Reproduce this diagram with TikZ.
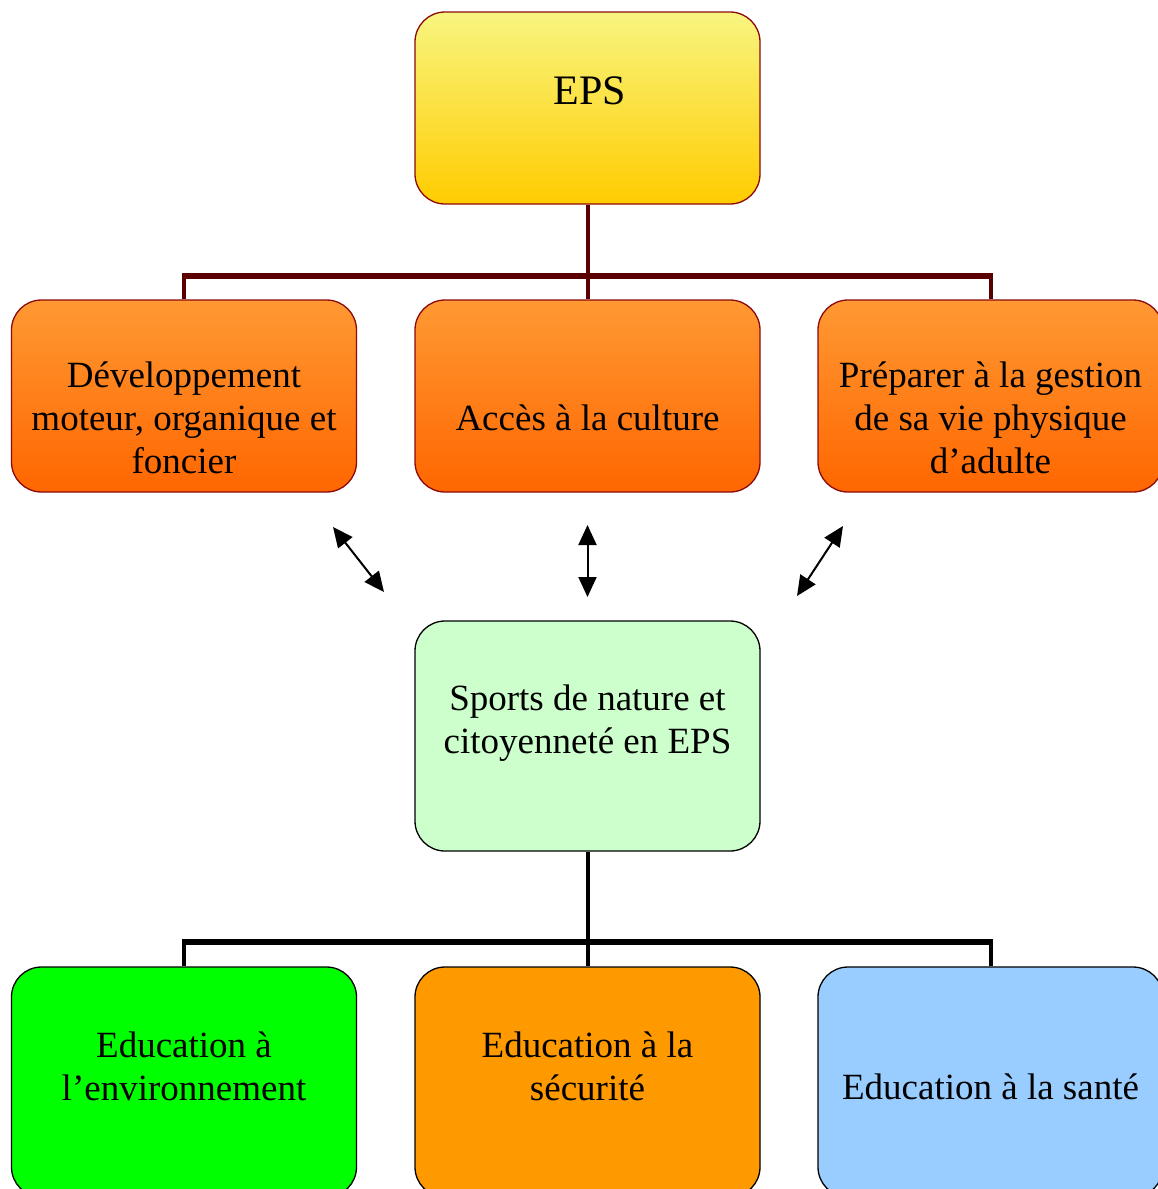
\documentclass[tikz,border=0pt]{standalone}
\usepackage{fontspec}
\setmainfont{Liberation Serif}
\usetikzlibrary{arrows.meta}
\definecolor{dred}{HTML}{5A0000}
\definecolor{bordred}{HTML}{8B0A0A}
\definecolor{epstop}{HTML}{F8F580}
\definecolor{epsbot}{HTML}{FFCC00}
\definecolor{ortop}{HTML}{FF9933}
\definecolor{orbot}{HTML}{FF6600}
\definecolor{lgreen}{HTML}{CCFFCC}
\definecolor{fgreen}{HTML}{00FF00}
\definecolor{forange}{HTML}{FF9900}
\definecolor{lblue}{HTML}{99CCFF}
\begin{document}
\begin{tikzpicture}[x=1pt,y=-1pt,
  box/.style={rectangle, rounded corners=30pt, minimum width=345pt, inner sep=0pt, line width=1.3pt},
  hbox/.style={box, minimum height=192pt},
  gold/.style={hbox, draw=bordred, top color=epstop, bottom color=epsbot},
  orng/.style={hbox, draw=bordred, top color=ortop, bottom color=orbot},
  lowbox/.style={box, minimum height=230pt, draw=black},
  lbl/.style={align=center, inner sep=0pt, font=\fontsize{37}{43}\selectfont},
  conn/.style={line width=4pt},
  bar/.style={line width=6pt},
  dbl/.style={line width=2pt, {Triangle[length=20pt,width=18pt]}-{Triangle[length=20pt,width=18pt]}}
]
\useasboundingbox (0,0) rectangle (1158,1189);
\clip (0,0) rectangle (1158,1189);

% top level
\node[gold] (eps) at (587.5,108) {};
\node[lbl, font=\fontsize{42}{48}\selectfont] (teps) at (590,91) {EPS};

% second row
\node[orng] (o1) at (184,396) {};
\node[orng] (o2) at (587.5,396) {};
\node[orng] (o3) at (990.5,396) {};
\node[lbl] (to1) at (184,418) {Développement\\moteur, organique et\\foncier};
\node[lbl] (to2) at (587.5,418) {Accès à la culture};
\node[lbl] (to3) at (990.5,418) {Préparer à la gestion\\de sa vie physique\\d’adulte};

% connectors top
\coordinate (b1) at (587.5,276);
\draw[conn, dred] (eps.south) -- (b1);
\draw[conn, dred] (b1) -- (o2.north);
\draw[conn, dred] (o1.north) -- (o1.north |- b1);
\draw[conn, dred] (o3.north) -- (o3.north |- b1);
\draw[bar, dred] ([xshift=-2pt]o1.north |- b1) -- ([xshift=2pt]o3.north |- b1);

% middle
\node[lowbox, fill=lgreen] (sn) at (587.5,736) {};
\node[lbl] (tsn) at (587.5,723) {Sports de nature et\\citoyenneté en EPS};

% double arrows
\coordinate (a1s) at (333,527);
\coordinate (a1e) at (384,592);
\coordinate (a2s) at (587.5,525);
\coordinate (a2e) at (587.5,597);
\coordinate (a3s) at (843,526);
\coordinate (a3e) at (797,596);
\draw[dbl] (a1s) -- (a1e);
\draw[dbl] (a2s) -- (a2e);
\draw[dbl] (a3s) -- (a3e);

% bottom row
\node[lowbox, fill=fgreen] (e1) at (184,1082) {};
\node[lowbox, fill=forange] (e2) at (587.5,1082) {};
\node[lowbox, fill=lblue] (e3) at (990.5,1082) {};
\node[lbl] (te1) at (184,1066) {Education à\\l’environnement};
\node[lbl] (te2) at (587.5,1066) {Education à la\\sécurité};
\node[lbl] (te3) at (990.5,1087) {Education à la santé};

% connectors bottom
\coordinate (b2) at (587.5,942);
\draw[conn] (sn.south) -- (b2);
\draw[conn] (b2) -- (e2.north);
\draw[conn] (e1.north) -- (e1.north |- b2);
\draw[conn] (e3.north) -- (e3.north |- b2);
\draw[bar] ([xshift=-2pt]e1.north |- b2) -- ([xshift=2pt]e3.north |- b2);
\end{tikzpicture}
\end{document}
